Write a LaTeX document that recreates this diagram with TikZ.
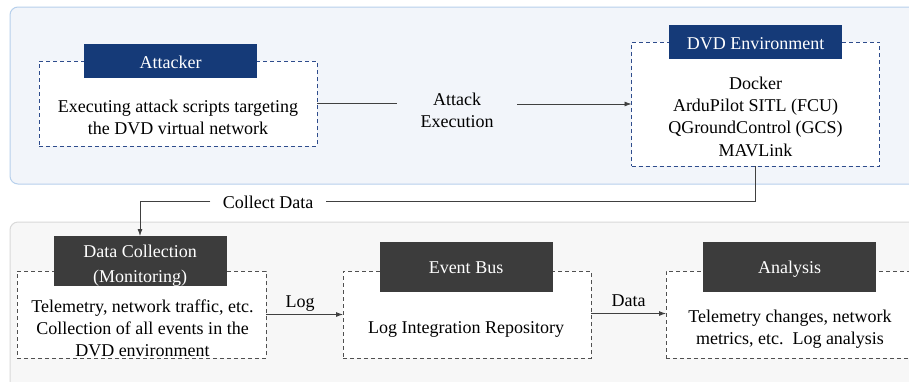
\documentclass[tikz,border=0pt]{standalone}
\usepackage{fontspec}
\setmainfont{LiberationSerif}[Extension=.ttf, UprightFont=*-Regular, BoldFont=*-Bold]
\newfontfamily\diagramfont{LiberationSerif}[Extension=.ttf, UprightFont=*-Regular, BoldFont=*-Bold]
\usetikzlibrary{arrows.meta}
\definecolor{topfill}{HTML}{F2F5FA}
\definecolor{topedge}{HTML}{B7D0EC}
\definecolor{botfill}{HTML}{F7F7F7}
\definecolor{botedge}{HTML}{D9D9D9}
\definecolor{navy}{HTML}{153A78}
\definecolor{charcoal}{HTML}{3C3C3C}
\definecolor{bluedash}{HTML}{2E4C8C}
\definecolor{graydash}{HTML}{505050}
\definecolor{wire}{HTML}{404040}
\definecolor{ink}{HTML}{000000}

\begin{document}
\begin{tikzpicture}[x=1pt,y=-1pt,
  every node/.style={font=\diagramfont\fontsize{18}{22}\selectfont, inner sep=0pt, outer sep=0pt},
  panel/.style={rounded corners=8pt, line width=1pt},
  dashbox/.style={draw, fill=white, dash pattern=on 4pt off 3pt, line width=0.9pt},
  bluebox/.style={dashbox, draw=bluedash},
  graybox/.style={dashbox, draw=graydash},
  headbox/.style={minimum width=173pt},
  headtxt/.style={anchor=base, text=white},
  txt/.style={text=ink, align=center},
  basetxt/.style={anchor=base, text=ink},
  wireline/.style={draw=wire, line width=0.8pt},
  arrowline/.style={wireline, -{Latex[length=7pt,width=5pt]}}]

\clip (0,0) rectangle (909,381);
\fill[white] (0,0) rectangle (909,381);

% background panels
\draw[panel, fill=topfill, draw=topedge] (10,7) rectangle (940,184);
\draw[panel, fill=botfill, draw=botedge] (10,222) rectangle (940,420);

% ---- attack side ----
\node[bluebox, minimum width=278pt, minimum height=85pt] (att) at (178,103.5) {};
\node[headbox, fill=navy, minimum height=34pt] (attH) at (170.5,61) {};
\node[headtxt] (attHT) at (170.5,68) {Attacker};
\node[txt] (attT) at (178,117.5) {Executing attack scripts targeting\\the DVD virtual network};

\node[bluebox, minimum width=248pt, minimum height=124pt] (dvd) at (755.5,104) {};
\node[headbox, fill=navy, minimum height=34pt] (dvdH) at (755.5,42) {};
\node[headtxt] (dvdHT) at (755.5,49) {DVD Environment};
\node[txt, font=\diagramfont\fontsize{18}{22.3}\selectfont] (dvdT) at (755.5,116.5)
  {Docker\\ArduPilot SITL (FCU)\\QGroundControl (GCS)\\MAVLink};

\node[txt, minimum width=120pt] (ae) at (457,110.5) {Attack\\Execution};
\draw[wireline] (att.east) -- (att.east -| ae.west);
\draw[arrowline] (ae.east |- dvd.west) -- (dvd.west);

% ---- monitoring side ----
\node[graybox, minimum width=249pt, minimum height=87pt] (dc) at (141.5,314.5) {};
\node[headbox, fill=charcoal, minimum height=50pt] (dcH) at (140,261) {};
\node[headtxt] (dcHT1) at (140,257) {Data Collection};
\node[headtxt] (dcHT2) at (140,282) {(Monitoring)};
\node[txt] (dcT) at (142.5,328.5)
  {Telemetry, network traffic, etc.\\Collection of all events in the\\DVD environment};

\node[graybox, minimum width=248pt, minimum height=87pt] (eb) at (467,314.5) {};
\node[headbox, fill=charcoal, minimum height=50pt] (ebH) at (466,267) {};
\node[headtxt] (ebHT) at (466,273) {Event Bus};
\node[basetxt] (ebT) at (466,333) {Log Integration Repository};

\node[graybox, minimum width=247pt, minimum height=87pt] (an) at (789.5,314.5) {};
\node[headbox, fill=charcoal, minimum height=50pt] (anH) at (789.5,267) {};
\node[headtxt] (anHT) at (789.5,273) {Analysis};
\node[txt] (anT) at (790,329) {Telemetry changes, network\\metrics, etc.\ \ Log analysis};

% ---- connectors ----
\node[basetxt, inner xsep=12.5pt] (cd) at (268,208) {Collect Data};
\coordinate (cdRow) at (268,201.5);
\draw[wireline] (dvd.south) |- (cdRow -| cd.east);
\draw[arrowline] (cdRow -| cd.west) -| (dcH.north);

\node[basetxt] (logL) at (300,307) {Log};
\draw[arrowline] (dc.east) -- (eb.west);

\node[basetxt] (dataL) at (628.5,306) {Data};
\draw[arrowline] ([yshift=1pt]eb.east) -- ([yshift=1pt]an.west);
\end{tikzpicture}
\end{document}
